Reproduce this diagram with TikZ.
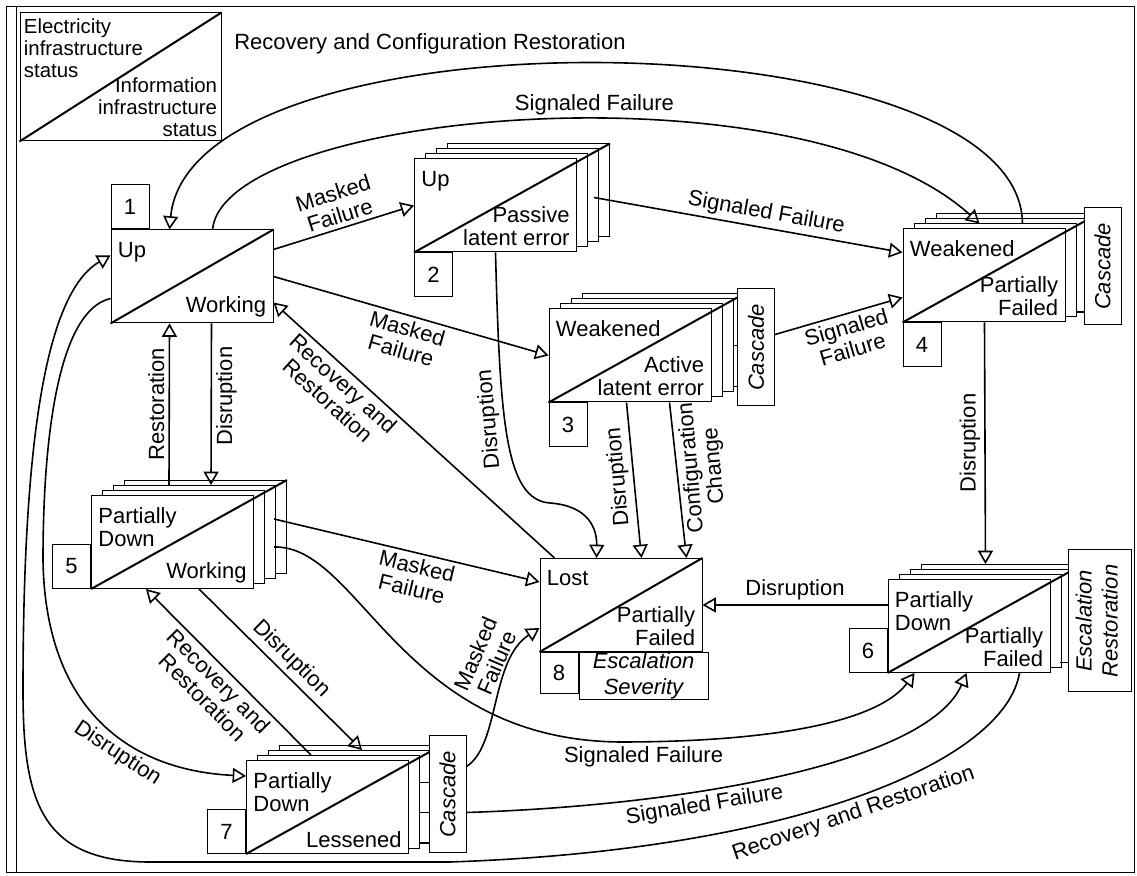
\documentclass[tikz,border=0pt]{standalone}
\usepackage{fontspec}
\setmainfont{Liberation Sans}
\usepackage{tikz}
\usetikzlibrary{arrows,calc}
\tikzstyle{state}=[rectangle, draw=black, fill=white, line width=0.5pt, minimum width=81pt, minimum height=46.5pt, inner sep=0pt]
\tikzstyle{diag}=[line width=1pt]
\tikzstyle{numbox}=[rectangle, draw=black, fill=white, line width=0.5pt, minimum width=19pt, minimum height=22pt, inner sep=0pt]
\tikzstyle{sidebox}=[rectangle, draw=black, fill=white, line width=0.5pt, minimum width=18.5pt, minimum height=58.5pt, inner sep=0pt, font=\fontsize{11}{13}\selectfont\itshape]
\tikzstyle{toptext}=[anchor=north west, align=left, inner xsep=3.5pt, inner ysep=6pt]
\tikzstyle{bottext}=[anchor=south east, align=right, inner xsep=3.5pt, inner ysep=3pt]
\tikzstyle{link}=[-open triangle 60, line width=0.8pt]
\tikzstyle{tag}=[align=center, inner sep=2pt]
\tikzstyle{tick}=[line width=0.5pt]

\begin{document}
\begin{tikzpicture}[x=0.5pt, y=-0.5pt, every node/.style={font=\fontsize{11}{11.5}\selectfont}]
\useasboundingbox (0,0) rectangle (1137,876);
\draw[line width=0.5pt] (6,7) rectangle (1134,873);
\draw[line width=0.5pt] (16,7) -- (16,873);

% key
\node[state, minimum width=100.5pt, minimum height=64pt,
  label={[toptext, inner xsep=2pt, inner ysep=3pt, font=\fontsize{10.2}{11}\selectfont]north west:Electricity\\infrastructure\\status},
  label={[bottext, inner xsep=2pt, inner ysep=2pt, font=\fontsize{10.2}{11}\selectfont]south east:Information\\infrastructure\\status}] (key) at (120.5,77) {};
\draw[diag] (key.south west) -- (key.north east);

% state 1
\node[state, label={[toptext]north west:Up}, label={[bottext]south east:Working}] (s1) at (192,276.5) {};
\draw[diag] (s1.south west) -- (s1.north east);
\node[numbox, anchor=south west] (n1) at (s1.north west) {1};

% state 2
\foreach \d in {3,2,1}
  \node[state] (s2l\d) at (495.5+11*\d,205.5-5*\d) {};
\node[state, label={[toptext]north west:Up}, label={[bottext]south east:Passive\\latent error}] (s2) at (495.5,205.5) {};
\draw[diag] (s2.south west) -- (s2l3.north east);
\node[numbox, anchor=north west] (n2) at (s2.south west) {2};

% state 3
\foreach \d in {3,2,1}
  \node[state] (s3l\d) at (630+11*\d,355.5-5*\d) {};
\node[state, label={[toptext]north west:Weakened}, label={[bottext]south east:Active\\latent error}] (s3) at (630,355.5) {};
\draw[diag] (s3.south west) -- (s3l3.north east);
\node[numbox, anchor=north west] (n3) at (s3.south west) {3};
\draw[tick] (s3l2.east) -- ++(9,0);
\node[sidebox] (k3) at (756,347.5) {\rotatebox{90}{Cascade}};

% state 4
\foreach \d in {3,2,1}
  \node[state] (s4l\d) at (984+11*\d,275.5-5*\d) {};
\node[state, label={[toptext]north west:Weakened}, label={[bottext]south east:Partially\\Failed}] (s4) at (984,275.5) {};
\draw[diag] (s4.south west) -- (s4l3.north east);
\node[numbox, anchor=north west] (n4) at (s4.south west) {4};
\node[sidebox] (k4) at (1102.5,266.5) {\rotatebox{90}{Cascade}};
\draw[tick] ($(k4.west)+(-8,46)$) -- ++(8,0);

% state 5
\foreach \d in {3,2,1}
  \node[state] (s5l\d) at (172.5+11*\d,542-5*\d) {};
\node[state, label={[toptext]north west:Partially\\Down}, label={[bottext]south east:Working}] (s5) at (172.5,542) {};
\draw[diag] (s5.south west) -- (s5l3.north east);
\node[numbox, anchor=south east] (n5) at (s5.south west) {5};

% state 6
\foreach \d in {3,2,1}
  \node[state] (s6l\d) at (969+11*\d,626-5*\d) {};
\node[state, label={[toptext]north west:Partially\\Down}, label={[bottext]south east:Partially\\Failed}] (s6) at (969,626) {};
\draw[diag] (s6.south west) -- (s6l3.north east);
\node[numbox, anchor=south east] (n6) at (s6.south west) {6};
\node[sidebox, minimum width=31.5pt, minimum height=71pt] (k6) at (1099.5,621) {\rotatebox{90}{\begin{tabular}{@{}c@{}}Escalation\\Restoration\end{tabular}}};
\draw[tick] ($(k6.west)+(-8,42)$) -- ++(8,0);

% state 7
\foreach \d in {3,2,1}
  \node[state] (s7l\d) at (327.5+11*\d,807-5*\d) {};
\node[state, label={[toptext]north west:Partially\\Down}, label={[bottext]south east:Lessened}] (s7) at (327.5,807) {};
\draw[diag] (s7.south west) -- (s7l3.north east);
\node[numbox, anchor=south east] (n7) at (s7.south west) {7};
\node[sidebox] (k7) at (447.5,794.5) {\rotatebox{90}{Cascade}};
\foreach \h in {-12,18,48}
  \draw[tick] ($(k7.west)+(-9,\h)$) -- ++(9,0);

% state 8
\node[state, label={[toptext]north west:Lost}, label={[bottext]south east:Partially\\Failed}] (s8) at (621,605) {};
\draw[diag] (s8.south west) -- (s8.north east);
\node[numbox, anchor=north west, minimum height=20.5pt] (n8) at (s8.south west) {8};
\node[sidebox, anchor=north west, minimum width=64.5pt, minimum height=20.5pt, align=center] (e8) at (n8.north east) {Escalation\\Severity};

% transitions
\draw[link] ($(s1.north east)+(0,20)$) -- node[tag, sloped, above] {Masked\\Failure} (s2.west);
\draw[link] (s1.east) -- node[tag, sloped, below] {Masked\\Failure} (s3.west);
\draw[link] ($(s2l1.east)+(6,-3)$) -- node[tag, pos=0.55, sloped, above] {Signaled Failure} ($(s4.north west)+(0,24)$);
\draw[link] ($(k3.east)+(0,-13)$) -- node[tag, pos=0.53, sloped, below] {Signaled\\Failure} ($(s4.south west)+(0,-25)$);
\draw[link] ($(s4l1.north west)+(109,0)$) .. controls (1020,15) and (190,5) .. node[tag, pos=0.64, above=9pt] {Recovery and Configuration Restoration} ($(s1.north west)+(59,0)$);
\draw[link] ($(s1.north west)+(102,0)$) .. controls (225,110) and (800,60) .. node[tag, pos=0.56, above] {Signaled Failure} ($(s4l1.north west)+(66,0)$);
\draw[link] (s2.south) .. controls (500,420) and (505,500) .. node[tag, pos=0.42, rotate=95, anchor=south] {Disruption} (550,503) .. controls (590,506) and (597,530) .. ($(s8.north west)+(57,0)$);
\draw[link] ($(s3.south west)+(78,0)$) -- node[tag, pos=0.47, rotate=95, anchor=south] {Disruption} ($(s8.north west)+(102,0)$);
\draw[link] ($(s3.south west)+(121,0)$) -- node[tag, pos=0.43, rotate=95, anchor=north] {Configuration\\Change} ($(s8.north west)+(147,0)$);
\draw[link] ($(s8.north west)+(15,0)$) -- node[tag, pos=0.72, sloped, below] {Recovery and\\Restoration} ($(s1.south east)+(0,-21)$);
\draw[link] ($(s4.south west)+(82,0)$) -- node[tag, midway, rotate=90, anchor=south] {Disruption} ($(s6l3.north west)+(65,0)$);
\draw[link] ($(s6.north west)+(0,26)$) -- node[tag, above] {Disruption} ($(s8.north east)+(0,47)$);
\draw[link] ($(s1.south west)+(101,0)$) -- node[tag, pos=0.45, rotate=90, anchor=north] {Disruption} ($(s5l2.north west)+(98,0)$);
\draw[link] ($(s5l2.north west)+(56,0)$) -- node[tag, midway, rotate=90, anchor=south] {Restoration} ($(s1.south west)+(59,0)$);
\draw[link] ($(s5l1.north east)+(9,29)$) -- node[tag, pos=0.55, sloped, below] {Masked\\Failure} ($(s8.north west)+(0,24)$);
\draw[link] ($(s5l1.east)+(9,10)$) .. controls (360,545) and (400,740) .. (620,742) .. controls (780,742) and (880,720) .. node[tag, pos=0.05, below] {Signaled Failure} ($(s6.south west)+(27,0)$);
\draw[link] ($(s5.south west)+(108,0)$) -- node[tag, sloped, above] {Disruption} ($(s7l2.north west)+(94,0)$);
\draw[link] ($(s7l1.north west)+(54,0)$) -- node[tag, sloped, below] {Recovery and\\Restoration} ($(s5.south west)+(55,0)$);
\draw[link] ($(k7.north east)+(0,31)$) .. controls (500,745) and (490,660) .. node[tag, pos=0.7, sloped, above] {Masked\\Failure} ($(s8.south west)+(0,-24)$);
\draw[link] ($(k7.north east)+(0,77)$) .. controls (700,805) and (930,760) .. node[tag, pos=0.35, sloped, below] {Signaled Failure} ($(s6.south west)+(79,0)$);
\draw[link] ($(s6.south west)+(132,0)$) .. controls (1005,760) and (800,850) .. node[tag, pos=0.52, sloped, below] {Recovery and Restoration} (450,862) -- (150,862) .. controls (40,862) and (23,800) .. (23,690) .. controls (23,420) and (50,290) .. ($(s1.north west)+(0,26)$);
\draw[link] ($(s1.south west)+(0,-25)$) .. controls (60,310) and (43,430) .. (43,560) .. controls (45,700) and (120,770) .. node[tag, pos=0.62, sloped, below] {Disruption} ($(s7.north west)+(0,16)$);
\end{tikzpicture}
\end{document}
